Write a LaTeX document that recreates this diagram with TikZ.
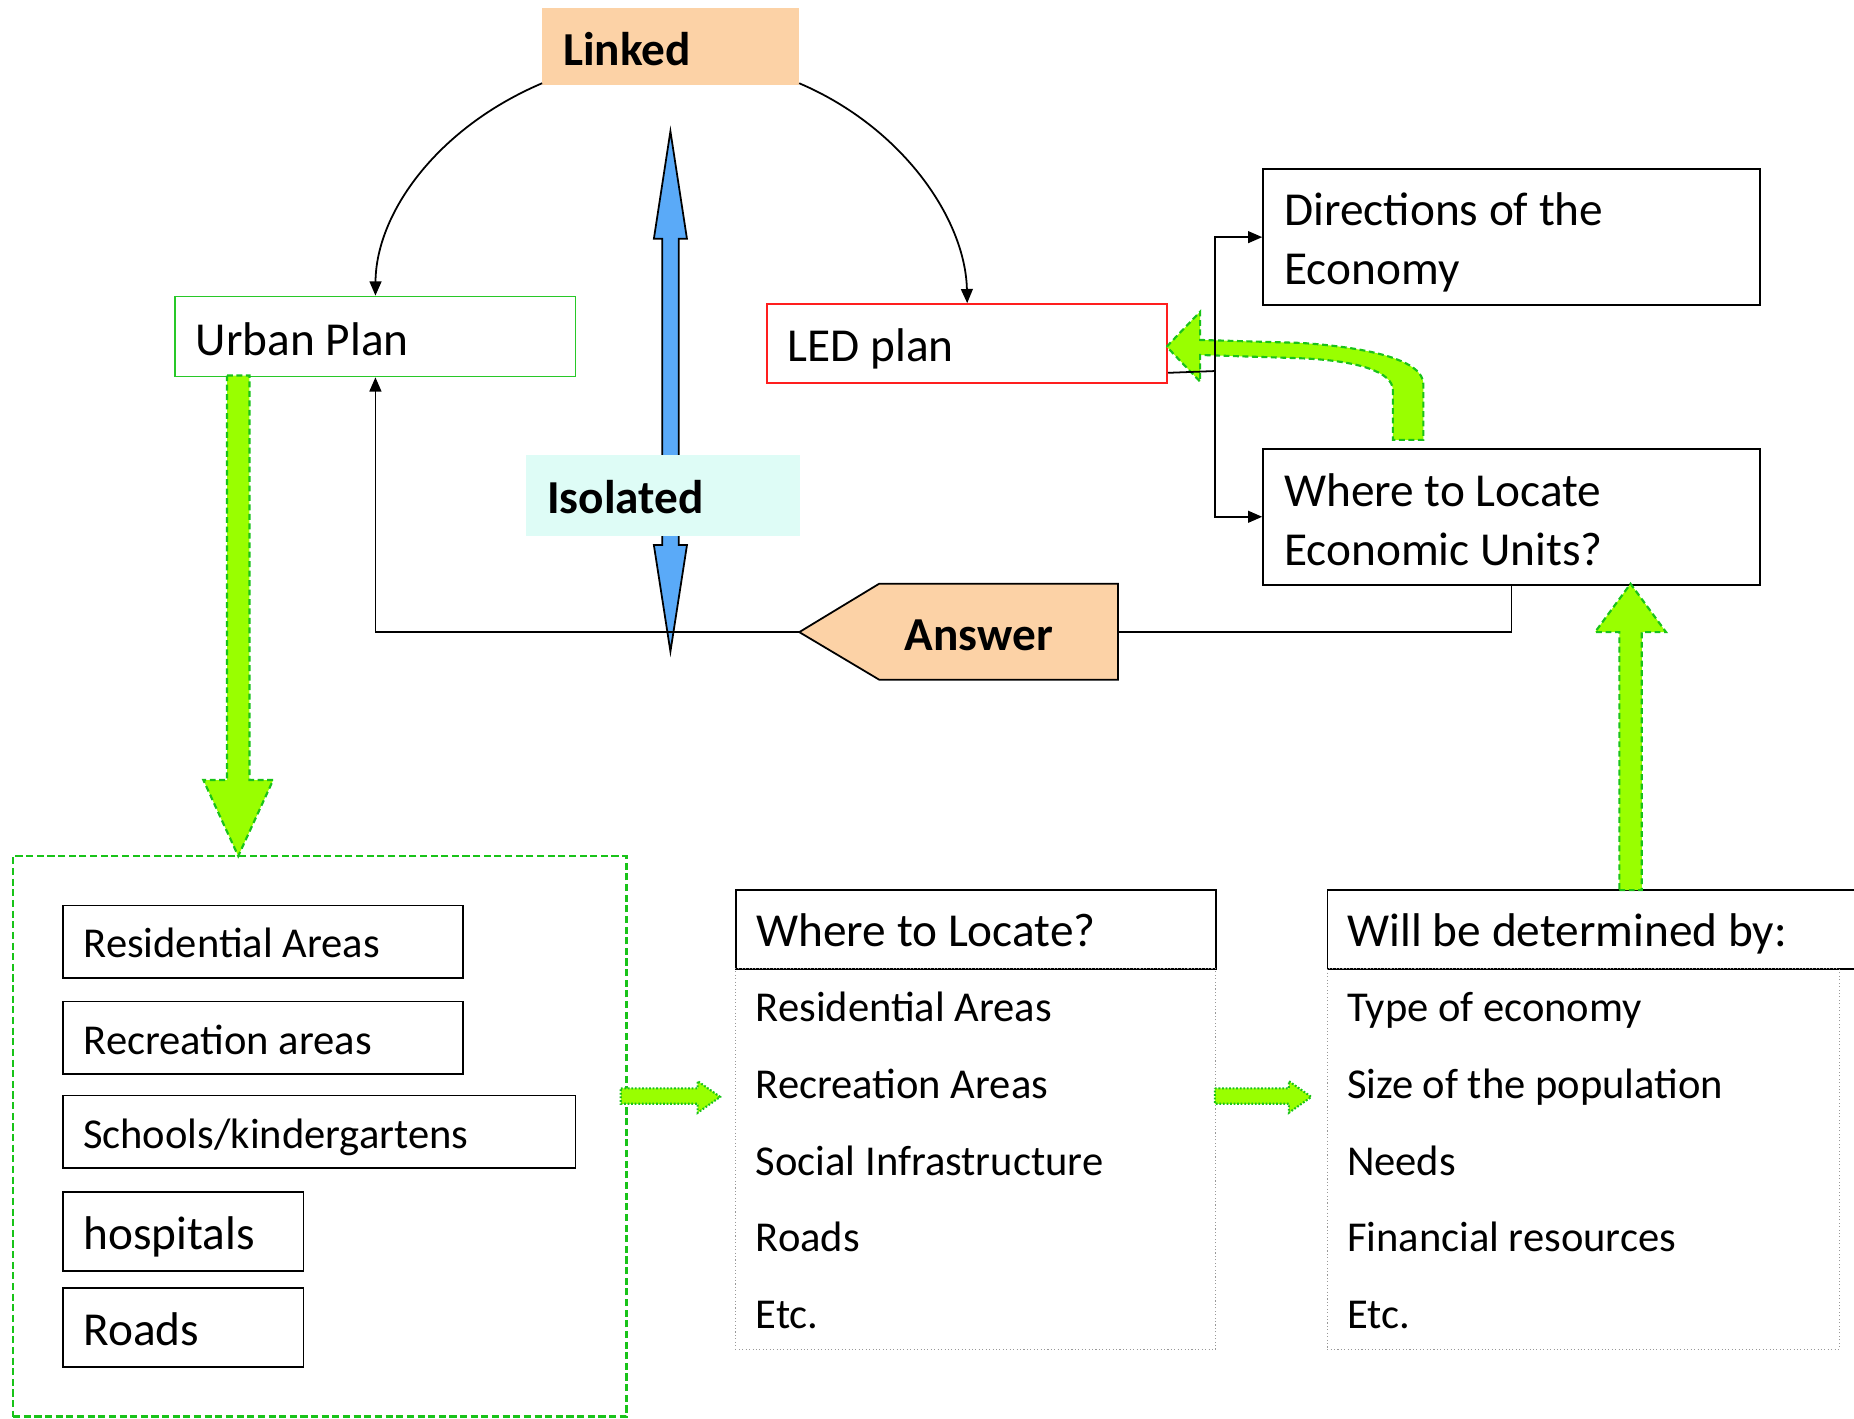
\documentclass[tikz,border=0pt]{standalone}
\usepackage{fontspec}
\setmainfont{Carlito}
\usetikzlibrary{arrows.meta,calc}
\definecolor{peach}{RGB}{252,210,166}
\definecolor{icecyan}{RGB}{222,252,246}
\definecolor{skyblue}{RGB}{90,170,248}
\definecolor{lime}{RGB}{153,255,0}
\definecolor{dashgreen}{RGB}{25,195,25}
\definecolor{urbangreen}{RGB}{40,200,40}
\definecolor{ledred}{RGB}{255,30,30}
\begin{document}
\begin{tikzpicture}[x=1pt,y=-1pt,
  big/.style={font=\fontsize{40}{50}\selectfont},
  mid/.style={font=\fontsize{36}{44}\selectfont},
  bigbold/.style={font=\fontsize{40}{50}\selectfont\bfseries},
  boxbase/.style={draw, line width=1.5pt, inner ysep=0pt, inner xsep=17.5pt, align=flush left, anchor=north west},
  tagbox/.style={inner ysep=0pt, inner xsep=17.5pt, align=flush left, anchor=north west},
  listbox/.style={draw=gray!80, dotted, line width=0.9pt, anchor=north west, inner sep=0pt},
  item/.style={anchor=base west, inner sep=0pt, font=\fontsize{36}{44}\selectfont},
  conn/.style={line width=1.5pt},
  arr/.style={conn, -{Triangle[length=12pt,width=10pt]}},
  greenarrow/.style={fill=lime, draw=dashgreen, line width=1.8pt, dash pattern=on 5pt off 3pt},
  smallgreen/.style={fill=lime, draw=dashgreen, line width=1.8pt, dash pattern=on 1.5pt off 1.5pt}
]
\useasboundingbox (0,0) rectangle (1568,1200);

% blue double arrow
\draw[fill=skyblue, line width=1.5pt] (567,111) -- (581,202) -- (574,202) -- (574,461) -- (581,461) -- (567,551) -- (553,461) -- (560,461) -- (560,202) -- (553,202) -- cycle;

% top nodes
\node[tagbox, bigbold, fill=peach, text width=182pt, text height=48.6pt, text depth=16.5pt] (linked) at (458.5,6.9) {Linked};
\node[tagbox, bigbold, fill=icecyan, inner xsep=18pt, text width=195.5pt, text height=49.8pt, text depth=19.1pt] (isolated) at (444.5,384.6) {Isolated};
\node[boxbase, big, draw=urbangreen, text width=303.5pt, text height=49.7pt, text depth=17.9pt] (urban) at (147.5,250) {Urban Plan};
\node[boxbase, big, draw=ledred, text width=303.5pt, text height=48.6pt, text depth=18.4pt] (led) at (648,256.4) {LED plan};
\node[boxbase, big, inner xsep=18pt, text width=384pt, text height=47.8pt, text depth=67pt] (dirs) at (1067.5,142.4) {Directions of the\\Economy};
\node[boxbase, big, inner xsep=18pt, text width=384pt, text height=48.6pt, text depth=66.2pt] (where) at (1067.5,378.9) {Where to Locate\\Economic Units?};

% Answer pentagon
\draw[fill=peach, line width=1.5pt] (676,534.6) coordinate (anstip) -- (743.5,493.7) -- (945.5,493.7) -- (945.5,574.8) -- (743.5,574.8) -- cycle;
\coordinate (ansright) at (945.5,534.6);
\node[anchor=base west, inner sep=0pt, bigbold] (answer) at (765,550.5) {Answer};

% green curved arrow from Where to LED
\draw[greenarrow] (986.7,293.2) -- (1015,263.6) -- (1015,287.5) -- (1100,290)
  .. controls (1160,294) and (1203.8,305) .. (1203.8,325) -- (1203.8,372) -- (1178,372) -- (1178,330)
  .. controls (1178,315) and (1150,305) .. (1100,303) -- (1015,300.2) -- (1015,322.8) -- cycle;

% connectors
\draw[arr] (linked.south west) ++(0,-2) .. controls (370,108) and (318,180) .. (urban.north);
\draw[arr] (linked.south east) ++(0,-2) .. controls (764,108) and (816.5,186) .. (led.north);
\draw[arr] (anstip) -| (urban.south);
\draw[conn] (ansright) -| (where.south);
\coordinate (ledout) at ($(led.south east)+(0,-9.6)$);
\coordinate (fork) at (1027.5,313.8);
\draw[conn] (ledout) -- (fork);
\draw[arr] (fork) |- (dirs.west);
\draw[arr] (fork) |- (where.west);

% container with boxes
\node[draw=dashgreen, line width=2.2pt, dash pattern=on 6pt off 3pt, anchor=north west, inner sep=0pt, minimum width=518.5pt, minimum height=474pt] (cont) at (10,723) {};
\node[boxbase, mid, text width=303.5pt, text height=44pt, text depth=17.3pt] (res) at (52.5,765) {Residential Areas};
\node[boxbase, mid, text width=303.5pt, text height=44.8pt, text depth=16.4pt] (rec) at (52.5,846.2) {Recreation areas};
\node[boxbase, mid, inner xsep=17pt, text width=399.5pt, text height=44.8pt, text depth=16.4pt] (sch) at (52.5,925.8) {Schools/kindergartens};
\node[boxbase, big, text width=168.5pt, text height=48.7pt, text depth=18pt] (hosp) at (52.5,1007.3) {hospitals};
\node[boxbase, big, text width=168.5pt, text height=49pt, text depth=18pt] (roads) at (52.5,1088.4) {Roads};

% green down arrow Urban -> container
\draw[greenarrow] (192,317.6) -- (211,317.6) -- (211,659.7) -- (231,659.7) -- (201.5,724) -- (172,659.7) -- (192,659.7) -- cycle;

% middle list
\node[boxbase, big, text width=371pt, text height=47.8pt, text depth=19.1pt] (wloc) at (621.5,751.7) {Where to Locate?};
\node[listbox, minimum width=406pt, minimum height=322.3pt] (wlist) at (621.5,818.6) {};
\foreach \t [count=\i] in {Residential Areas, Recreation Areas, Social Infrastructure, Roads, Etc.}
  \node[item] (wl\i) at (639,{863.8+65*(\i-1)}) {\t};

% right list
\node[boxbase, big, inner xsep=17pt, text width=466pt, text height=47.8pt, text depth=19.1pt] (will) at (1122,751.7) {Will be determined by:};
\node[listbox, minimum width=433pt, minimum height=322.3pt] (dlist) at (1122,818.6) {};
\foreach \t [count=\i] in {Type of economy, Size of the population, Needs, Financial resources, Etc.}
  \node[item] (dl\i) at (1139,{863.8+65*(\i-1)}) {\t};

% green up arrow Will -> Where
\draw[greenarrow] (1369.5,752.8) -- (1388.5,752.8) -- (1388.5,534.6) -- (1409,534.6) -- (1379,493.7) -- (1349,534.6) -- (1369.5,534.6) -- cycle;

% small green arrows
\draw[smallgreen] (525,920.5) -- (590,920.5) -- (590,914.3) -- (609,927.7) -- (590,941.1) -- (590,933.5) -- (525,933.5) -- cycle;
\draw[smallgreen] (1027.5,920.5) -- (1090,920.5) -- (1090,914.3) -- (1109,927.7) -- (1090,941.1) -- (1090,933.5) -- (1027.5,933.5) -- cycle;
\end{tikzpicture}
\end{document}
